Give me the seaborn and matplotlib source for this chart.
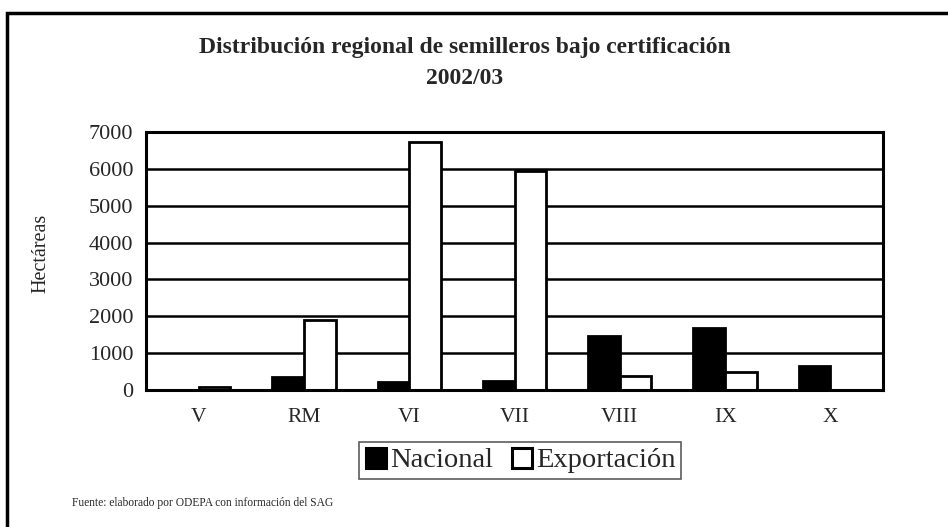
import numpy as np
import pandas as pd
import matplotlib
matplotlib.use("Agg")
import matplotlib.pyplot as plt
import seaborn as sns
from matplotlib.patches import Rectangle
from matplotlib.lines import Line2D

regiones = ["V", "RM", "VI", "VII", "VIII", "IX", "X"]
nacional = [0, 350, 210, 240, 1470, 1670, 650]
exportacion = [80, 1900, 6720, 5940, 370, 500, 0]
series = ["Nacional", "Exportación"]
yticks = [0, 1000, 2000, 3000, 4000, 5000, 6000, 7000]

df = pd.DataFrame({
    "Región": regiones * 2,
    "Hectáreas": nacional + exportacion,
    "Serie": [series[0]] * len(regiones) + [series[1]] * len(regiones),
})

sns.set_theme(style="white")
plt.rcParams["font.family"] = ["Liberation Serif", "DejaVu Serif"]

fig = plt.figure(figsize=(9.48, 5.27), dpi=100)
ax = fig.add_axes([146/948, 1-390/527, (883-146)/948, (390-132)/527])

sns.barplot(data=df, x="Región", y="Hectáreas", hue="Serie", order=regiones,
            hue_order=series, palette=["black", "white"], edgecolor="black",
            linewidth=2, width=0.6, ax=ax, legend=False, saturation=1)

ax.set_ylim(0, 7000)
ax.set_xlim(-0.5, len(regiones) - 0.5)
ax.set_yticks(yticks)
ax.set_yticklabels([str(v) for v in yticks], fontsize=16)
ax.yaxis.grid(True, color="black", linewidth=1.8)
ax.set_axisbelow(True)
ax.set_xticks(range(len(regiones)))
ax.set_xticklabels(regiones, fontsize=15.5)
ax.set_xticks(np.arange(-0.5, len(regiones), 1), minor=True)
ax.tick_params(axis="x", which="major", length=0, pad=13)
ax.tick_params(axis="x", which="minor", length=6, width=2, color="black", direction="out")
ax.tick_params(axis="y", which="major", length=4, width=1, color="#555555", direction="out", pad=5)
for s in ax.spines.values():
    s.set_visible(True)
    s.set_color("black")
    s.set_linewidth(2.2)
ax.set_xlabel("")
ax.set_ylabel("Hectáreas", fontsize=14.5)
ax.yaxis.set_label_coords((50-146)/737, (390-253)/258)

fig.text(465/948, 1-47/527, "Distribución regional de semilleros bajo certificación",
         ha="center", va="center", fontsize=17, fontweight="bold")
fig.text(465/948, 1-78/527, "2002/03", ha="center", va="center",
         fontsize=17, fontweight="bold")

handles = [Line2D([], [], marker="s", linestyle="none", markersize=15,
                  markerfacecolor=c, markeredgecolor="black", markeredgewidth=2.2)
           for c in ["black", "white"]]
leg = fig.legend(handles, series, loc="center", bbox_to_anchor=(520/948, 1-460.5/527),
                 ncol=2, fontsize=20.5, frameon=True, fancybox=False,
                 handletextpad=0.1, columnspacing=0.6, handlelength=0.8,
                 borderpad=0.2, borderaxespad=0)
leg.get_frame().set_edgecolor("#333333")
leg.get_frame().set_linewidth(1.2)

fig.text(72/948, 1-503/527, "Fuente: elaborado por ODEPA con información del SAG",
         ha="left", va="center", fontsize=8.3)

frame = Rectangle((6.5/948, -0.1), 1.2, 1 - 12.5/527 + 0.1, transform=fig.transFigure,
                  fill=False, edgecolor="black", linewidth=2.5)
fig.patches.append(frame)

fig.savefig("out.png", dpi=100)
